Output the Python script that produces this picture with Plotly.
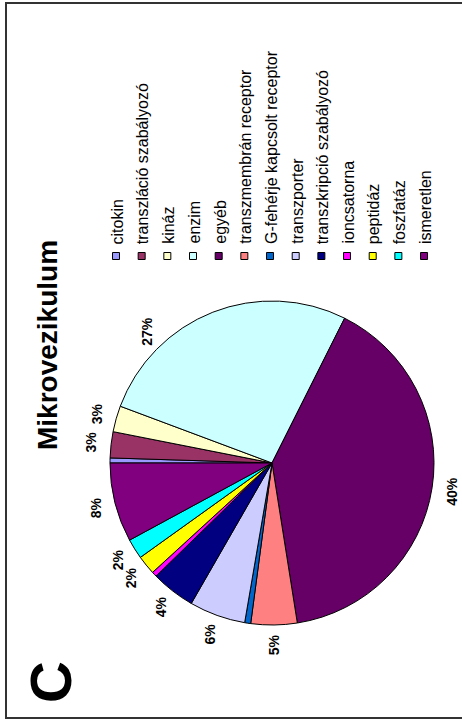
import math
import plotly.graph_objects as go

# Protein categories (legend order = slice order, clockwise)
categories = [
    "citokin", "transzláció szabályozó", "kináz", "enzim", "egyéb",
    "transzmembrán receptor", "G-fehérje kapcsolt receptor", "transzporter",
    "transzkripció szabályozó", "ioncsatorna", "peptidáz", "foszfatáz", "ismeretlen",
]
# Share of each category (%)
shares = [0.5, 2.6, 2.6, 26.7, 40.1, 4.6, 0.6, 5.6, 4.4, 0.5, 1.9, 2.0, 7.9]
colors = [
    "#9999FF", "#993366", "#FFFFCC", "#CCFFFF", "#660066",
    "#FF8080", "#0066CC", "#CCCCFF", "#000080", "#FF00FF",
    "#FFFF00", "#00FFFF", "#800080",
]

W, H = 462, 722
FONT = "Arial, 'Liberation Sans', sans-serif"


def px(x):
    return x / W


def py(y):
    return 1 - y / H


# pie geometry in pixels
cx, cy, r = 272, 463, 162
start_deg = 270  # first slice starts at 9 o'clock

fig = go.Figure(go.Pie(
    labels=categories,
    values=shares,
    sort=False,
    direction="clockwise",
    rotation=start_deg,
    marker=dict(colors=colors, line=dict(color="black", width=1)),
    textinfo="none",
    showlegend=False,
    domain=dict(x=[px(cx - r), px(cx + r)], y=[py(cy + r), py(cy - r)]),
))

annotations = []
shapes = []

# rotated percentage labels outside the slices
total = sum(shares)
label_shift = {"enzim": -22}
label_r = r + 20
acc = 0.0
for name, v in zip(categories, shares):
    frac = v / total
    mid = (acc + frac / 2) * 360  # degrees clockwise from the 9 o'clock start
    acc += frac
    pct = round(frac * 100)
    if frac * 100 < 1:
        continue
    theta = mid + label_shift.get(name, 0)
    phi = math.radians(180 - theta)
    lx = cx + label_r * math.cos(phi)
    ly = cy - label_r * math.sin(phi)
    annotations.append(dict(
        x=px(lx), y=py(ly), xref="paper", yref="paper",
        text=f"<b>{pct}%</b>", showarrow=False, textangle=-90,
        xanchor="center", yanchor="middle",
        font=dict(family=FONT, size=14, color="black"),
    ))

# legend drawn as a rotated column of swatches
lx0, lstep, marker_y, text_bottom = 116, 25.67, 256, 246
for i, (name, col) in enumerate(zip(categories, colors)):
    x = lx0 + i * lstep
    shapes.append(dict(
        type="rect", xref="paper", yref="paper",
        x0=px(x - 3.5), x1=px(x + 3.5), y0=py(marker_y + 3.5), y1=py(marker_y - 3.5),
        fillcolor=col, line=dict(color="black", width=1),
    ))
    annotations.append(dict(
        x=px(x + 1), y=py(text_bottom), xref="paper", yref="paper",
        text=name, showarrow=False, textangle=-90,
        xanchor="center", yanchor="bottom",
        font=dict(family=FONT, size=16, color="black"),
    ))

# title and panel letter
annotations.append(dict(
    x=px(47), y=py(345), xref="paper", yref="paper",
    text="<b>Mikrovezikulum</b>", showarrow=False, textangle=-90,
    xanchor="center", yanchor="middle",
    font=dict(family=FONT, size=28, color="black"),
))
annotations.append(dict(
    x=px(50), y=py(682), xref="paper", yref="paper",
    text="<b>C</b>", showarrow=False, textangle=-90,
    xanchor="center", yanchor="middle",
    font=dict(family=FONT, size=58, color="black"),
))

# panel frame
shapes.append(dict(
    type="rect", xref="paper", yref="paper",
    x0=px(6), x1=px(W + 5), y0=py(718), y1=py(3),
    line=dict(color="#333333", width=2), fillcolor="rgba(0,0,0,0)",
))

fig.update_layout(
    width=W, height=H,
    margin=dict(l=0, r=0, t=0, b=0),
    paper_bgcolor="white", plot_bgcolor="white",
    annotations=annotations, shapes=shapes,
)

fig.write_html("out.html")
